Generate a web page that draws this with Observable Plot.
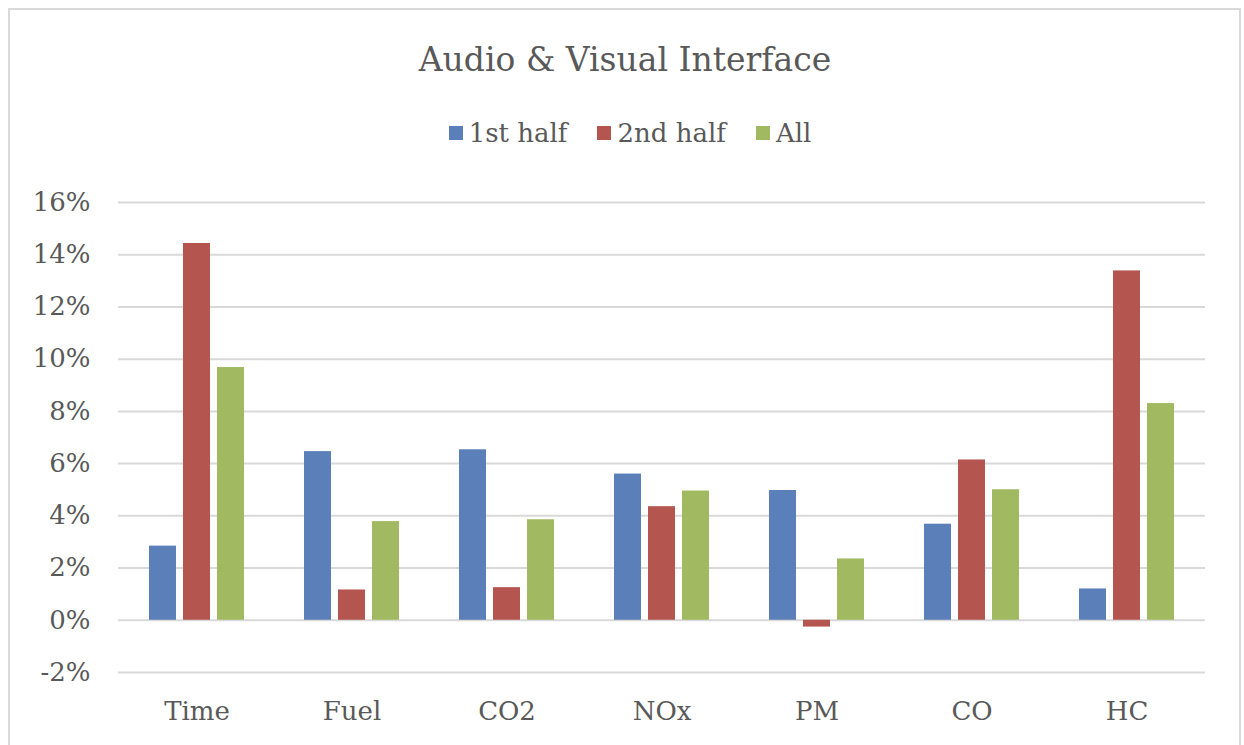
<!DOCTYPE html>
<html>
<head>
<meta charset="utf-8">
<script src="https://cdn.jsdelivr.net/npm/d3@7"></script>
<script src="https://cdn.jsdelivr.net/npm/@observablehq/plot@0.6"></script>
<style>
  html, body { margin: 0; padding: 0; background: #fff; }
  body { width: 1244px; height: 745px; position: relative; overflow: hidden; font-family: "DejaVu Serif", serif; color: #595959; }
  #frame { position: absolute; left: 8px; top: 8px; width: 1233px; height: 760px; border: 2px solid #d9d9d9; box-sizing: border-box; }
  #title { position: absolute; left: 0; width: 1250px; top: 39px; text-align: center; font-size: 33px; line-height: 42px; }
  #legend { position: absolute; left: 0; width: 1260px; top: 117px; display: flex; justify-content: center; gap: 30px; font-size: 26px; line-height: 32px; }
  #legend .item { display: flex; align-items: center; gap: 6px; }
  #legend .sw { width: 14px; height: 14px; display: inline-block; }
  #chart { position: absolute; left: 0; top: 180px; }
</style>
</head>
<body>
<div id="frame"></div>
<div id="title">Audio &amp; Visual Interface</div>
<div id="legend"></div>
<div id="chart"></div>
<script>
const categories = ["Time", "Fuel", "CO2", "NOx", "PM", "CO", "HC"];
const seriesNames = ["1st half", "2nd half", "All"];
const firstHalf  = [2.84, 6.46, 6.53, 5.60, 4.97, 3.68, 1.20];
const secondHalf = [14.43, 1.16, 1.25, 4.35, -0.26, 6.14, 13.38];
const allValues  = [9.68, 3.78, 3.85, 4.95, 2.35, 5.00, 8.30];
const yTicks = [-2, 0, 2, 4, 6, 8, 10, 12, 14, 16];
const colors = ["#5B80B9", "#B4554F", "#A1BA62"];

const seriesValues = [firstHalf, secondHalf, allValues];
const table = [];
seriesNames.forEach((s, si) => categories.forEach((c, ci) => table.push({category: c, series: s, value: seriesValues[si][ci]})));

const offsets = [-34, 0, 34];
const barMarks = seriesNames.map((s, si) =>
  Plot.barY(table.filter(d => d.series === s), {
    x: "category", y: "value", fill: "series",
    dx: offsets[si], insetLeft: 64, insetRight: 64
  })
);

const chart = Plot.plot({
  width: 1244,
  height: 565,
  marginLeft: 118,
  marginRight: 39,
  marginTop: 22,
  marginBottom: 73,
  style: { fontFamily: "DejaVu Serif, serif", fontSize: "26px", color: "#595959", background: "transparent" },
  x: { domain: categories, padding: 0, tickSize: 0, tickPadding: 29, label: null },
  y: { domain: [-2, 16], ticks: yTicks, tickFormat: d => d + "%", tickSize: 0, tickPadding: 28, label: null },
  color: { domain: seriesNames, range: colors },
  marks: [
    Plot.ruleY(yTicks, { stroke: "#d9d9d9", strokeWidth: 2 }),
    ...barMarks
  ]
});
document.getElementById("chart").appendChild(chart);

const legend = document.getElementById("legend");
seriesNames.forEach((s, i) => {
  const item = document.createElement("div");
  item.className = "item";
  const sw = document.createElement("span");
  sw.className = "sw";
  sw.style.background = colors[i];
  const label = document.createElement("span");
  label.textContent = s;
  item.appendChild(sw);
  item.appendChild(label);
  legend.appendChild(item);
});
</script>
</body>
</html>
